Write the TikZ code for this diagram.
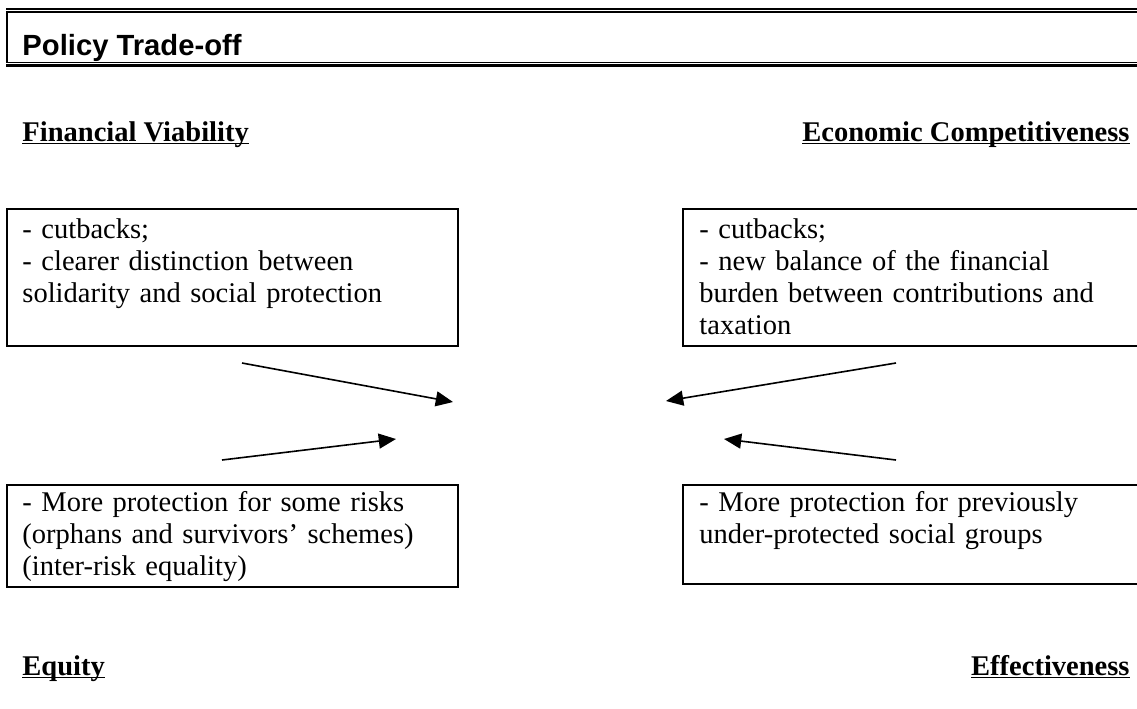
\documentclass[tikz,border=0pt]{standalone}
\usepackage{fontspec}
\setmainfont{Liberation Serif}
\newfontfamily\titlefont{Liberation Sans}
\usetikzlibrary{arrows.meta}

\newdimen\pxu
\pxu=0.4348pt
\newcommand{\headul}[1]{\setbox0\hbox{#1}\rlap{\rule[-1.4pt]{\wd0}{0.6pt}}\box0}

\tikzset{
  infobox/.style={draw, line width=0.9pt, anchor=north west, inner sep=0pt},
  boxtext/.style={anchor=north west, inner sep=0pt, text width=440\pxu, align=left,
    font=\fontsize{12.4}{13.9}\selectfont},
  heading/.style={inner sep=0pt, font=\fontsize{12.4}{13.9}\selectfont\bfseries},
  trade/.style={-{Triangle[length=7.5pt,width=6.5pt]}, line width=0.7pt},
}

\begin{document}
\begin{tikzpicture}[x=\pxu, y=-\pxu]
  \useasboundingbox (0,0) rectangle (1137,708);
  % title bar
  \draw[line width=1.1pt] (6,9) -- (1137,9);
  \draw[line width=0.6pt] (6,12) -- (1137,12);
  \draw[line width=0.6pt] (6,62.3) -- (1137,62.3);
  \draw[line width=1.2pt] (6,65.3) -- (1137,65.3);
  \draw[line width=0.9pt] (7,12) -- (7,62.3);
  \node[anchor=base west, inner sep=0pt, font=\titlefont\bfseries\fontsize{12.7}{14}\selectfont] (title) at (22,55) {Policy Trade-off};

  % the four goals
  \node[heading, anchor=base west] (viab) at (22,141) {\headul{Financial Viability}};
  \node[heading, anchor=base east] (comp) at (1130,141) {\headul{Economic Competitiveness}};
  \node[heading, anchor=base west] (equi) at (22,675) {\headul{Equity}};
  \node[heading, anchor=base east] (effe) at (1130,675) {\headul{Effectiveness}};

  % boxes
  \node[infobox, minimum width=451\pxu, minimum height=137\pxu] (viabbox) at (6,208) {};
  \node[infobox, minimum width=460\pxu, minimum height=137\pxu] (compbox) at (682,208) {};
  \node[infobox, minimum width=451\pxu, minimum height=102\pxu] (equibox) at (6,484) {};
  \node[infobox, minimum width=460\pxu, minimum height=99\pxu] (effebox) at (682,484) {};

  \node[boxtext] (viabtext) at ([shift={(16,8)}]viabbox.north west)
    {\strut- cutbacks;\\- clearer distinction between\\solidarity and social protection};
  \node[boxtext] (comptext) at ([shift={(17,8)}]compbox.north west)
    {\strut- cutbacks;\\- new balance of the financial\\burden between contributions and\\taxation};
  \node[boxtext] (equitext) at ([shift={(16,5)}]equibox.north west)
    {\strut- More protection for some risks\\(orphans and survivors' schemes)\\(inter-risk equality)};
  \node[boxtext] (effetext) at ([shift={(17,5)}]effebox.north west)
    {\strut- More protection for previously\\under-protected social groups};

  % arrows
  \coordinate (viabtail) at (242,363);
  \coordinate (viabtip) at (453,402);
  \coordinate (equitail) at (222,460);
  \coordinate (equitip) at (396,439);
  \coordinate (comptail) at (896,363);
  \coordinate (comptip) at (666,401);
  \coordinate (effetail) at (896,460);
  \coordinate (effetip) at (724,439);
  \draw[trade] (viabtail) -- (viabtip);
  \draw[trade] (equitail) -- (equitip);
  \draw[trade] (comptail) -- (comptip);
  \draw[trade] (effetail) -- (effetip);
\end{tikzpicture}
\end{document}
